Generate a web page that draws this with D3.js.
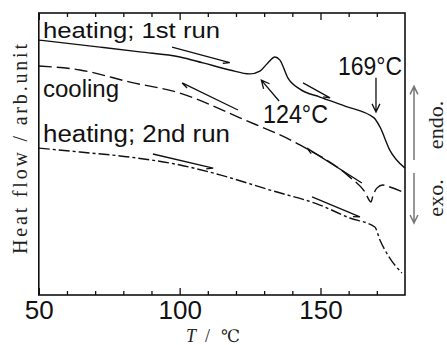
<!DOCTYPE html>
<html><head><meta charset="utf-8">
<script src="https://cdn.jsdelivr.net/npm/d3@7"></script>
<style>body{margin:0;background:#fff}svg{display:block}</style>
</head><body>
<script>
// ---- data (T in °C, heat flow in arb. units) ----
const run1T  = [50, 71.7, 85.9, 100.1, 108.3, 117.8, 124.9, 128.5, 131.3, 133.8, 135.6, 138.4, 142.7, 149.8, 158.7, 169.0, 171.1, 174.6, 180];
const run1HF = [9.04, 8.79, 8.62, 8.44, 8.23, 7.98, 7.84, 7.94, 8.23, 8.44, 8.33, 7.70, 7.30, 7.02, 6.70, 6.28, 5.96, 5.14, 4.50];
const coolT  = [50, 64.6, 82.4, 100.1, 121.4, 142.7, 160.4, 165.8, 167.9, 168.6, 170.0, 172.1, 174.6, 180];
const coolHF = [8.12, 7.98, 7.55, 7.16, 6.28, 5.32, 4.18, 3.65, 3.30, 3.51, 3.79, 3.90, 3.83, 3.62];
const run2T  = [50, 64.6, 82.4, 100.1, 114.3, 132.1, 149.8, 160.4, 169.3, 171.1, 174.6, 178.9];
const run2HF = [5.21, 5.07, 4.89, 4.61, 4.26, 3.72, 3.19, 2.73, 2.41, 1.95, 1.31, 0.78];
const majorTicks = [50, 100, 150];
const minorTicks = [60, 70, 80, 90, 110, 120, 130, 140, 160, 170];
const seriesLabels = ["heating; 1st run", "cooling", "heating; 2nd run"];
// direction arrows: [T tail, HF tail, T head, HF head]
const dirArrows = [
  [97.3, 8.79, 117.8, 8.24],
  [143.8, 7.52, 153.4, 6.99],
  [120.7, 6.56, 100.9, 7.52],
  [164.7, 3.97, 145.2, 5.21],
  [90.5, 5.0, 111.9, 4.50],
  [147.0, 3.48, 164.0, 2.77]
];
const peakLabels = ["124°C", "169°C"];

const W = 447, H = 345;
const m = {l: 38.8, r: 42, t: 13, b: 50};
const svg = d3.select("body").append("svg").attr("width", W).attr("height", H);
const x = d3.scaleLinear().domain([50, 180]).range([m.l, W - m.r]);
const y = d3.scaleLinear().domain([0, 10]).range([H - m.b, m.t]);
const sans = "'Liberation Sans', Arial, Helvetica, sans-serif";
const serif = "'Liberation Serif', 'Times New Roman', serif";

// ticks (inward, bottom and top)
const botMin = svg.append("g").attr("transform", `translate(0,${y(0)})`);
botMin.call(d3.axisBottom(x).tickValues(minorTicks).tickSize(-4).tickFormat(""));
const botMaj = svg.append("g").attr("transform", `translate(0,${y(0)})`);
botMaj.call(d3.axisBottom(x).tickValues(majorTicks).tickSize(-7).tickPadding(6).tickFormat(d3.format("d")));
const topMin = svg.append("g").attr("transform", `translate(0,${y(10)})`);
topMin.call(d3.axisTop(x).tickValues(minorTicks).tickSize(-4).tickFormat(""));
const topMaj = svg.append("g").attr("transform", `translate(0,${y(10)})`);
topMaj.call(d3.axisTop(x).tickValues(majorTicks).tickSize(-7).tickFormat(""));
svg.selectAll(".domain").remove();
svg.selectAll(".tick line").attr("stroke", "#111").attr("stroke-width", 1.3);
botMaj.selectAll("text").attr("font-family", sans).attr("font-size", 26).attr("fill", "#111");

// frame
svg.append("rect").attr("x", x(50)).attr("y", y(10)).attr("width", x(180) - x(50)).attr("height", y(0) - y(10))
  .attr("fill", "none").attr("stroke", "#111").attr("stroke-width", 1.6);

// curves
const line = d3.line().x(d => x(d[0])).y(d => y(d[1])).curve(d3.curveMonotoneX);
const g = svg.append("g").attr("fill", "none").attr("stroke", "#111").attr("stroke-width", 1.4);
g.append("path").attr("d", line(d3.zip(run1T, run1HF)));
g.append("path").attr("d", line(d3.zip(coolT, coolHF))).attr("stroke-dasharray", "13,5");
g.append("path").attr("d", line(d3.zip(run2T, run2HF))).attr("stroke-dasharray", "11,3,3,3");

// direction half-arrows
dirArrows.forEach(a => {
  const x1 = x(a[0]), y1 = y(a[1]), x2 = x(a[2]), y2 = y(a[3]);
  const ang = Math.atan2(y2 - y1, x2 - x1);
  const bl = 7, ba = 0.35;
  const side = (x2 > x1) ? -1 : 1;
  const bx = x2 - bl * Math.cos(ang + side * ba), by = y2 - bl * Math.sin(ang + side * ba);
  g.append("path").attr("d", `M${x1},${y1}L${x2},${y2}L${bx},${by}`).attr("stroke-width", 1.3);
});

// annotation arrows with open heads
function arrow(x1, y1, x2, y2, color, sw) {
  const ang = Math.atan2(y2 - y1, x2 - x1);
  const hl = 9, ha = 0.45;
  const p1 = [x2 - hl * Math.cos(ang - ha), y2 - hl * Math.sin(ang - ha)];
  const p2 = [x2 - hl * Math.cos(ang + ha), y2 - hl * Math.sin(ang + ha)];
  svg.append("path").attr("d", `M${x1},${y1}L${x2},${y2}M${p1}L${x2},${y2}L${p2}`)
    .attr("fill", "none").attr("stroke", color).attr("stroke-width", sw);
}
arrow(x(135.3), y(6.88), x(129.0), y(7.62), "#111", 1.3);
arrow(x(169.7), y(7.70), x(169.7), y(6.49), "#111", 1.3);
arrow(x(180) + 9, y(4.79), x(180) + 9, y(7.4), "#777", 1.5);
arrow(x(180) + 9, y(4.33), x(180) + 9, y(2.55), "#777", 1.5);

// series labels
const lab = [[43, 38, 22, 177], [43, 97, 23, 76], [43, 142, 23, 187]];
seriesLabels.forEach((t, i) => {
  svg.append("text").attr("x", lab[i][0]).attr("y", lab[i][1]).attr("font-family", sans)
    .attr("font-size", lab[i][2]).attr("textLength", lab[i][3]).attr("lengthAdjust", "spacingAndGlyphs")
    .attr("fill", "#111").text(t);
});
svg.append("text").attr("x", 263).attr("y", 123).attr("font-family", sans).attr("font-size", 26)
  .attr("textLength", 65).attr("lengthAdjust", "spacingAndGlyphs").attr("fill", "#111").text(peakLabels[0]);
svg.append("text").attr("x", 338).attr("y", 75).attr("font-family", sans).attr("font-size", 26)
  .attr("textLength", 64).attr("lengthAdjust", "spacingAndGlyphs").attr("fill", "#111").text(peakLabels[1]);

// axis titles
svg.append("text").attr("transform", "translate(27,149) rotate(-90)").attr("text-anchor", "middle")
  .attr("font-family", serif).attr("font-size", 20).attr("textLength", 210).attr("lengthAdjust", "spacing")
  .attr("fill", "#222").text("Heat flow / arb.unit");
svg.append("text").attr("x", 186).attr("y", 342).attr("font-family", serif).attr("font-style", "italic")
  .attr("font-size", 18).attr("fill", "#222").text("T");
svg.append("text").attr("x", 205).attr("y", 342).attr("font-family", serif)
  .attr("font-size", 18).attr("fill", "#222").text("/");
svg.append("text").attr("x", 221).attr("y", 342).attr("font-family", "'DejaVu Serif', serif")
  .attr("font-size", 17).attr("fill", "#222").text("℃");

// exo / endo
svg.append("text").attr("transform", "translate(443,198) rotate(-90)").attr("text-anchor", "middle")
  .attr("font-family", serif).attr("font-size", 22).attr("fill", "#222").text("exo.");
svg.append("text").attr("transform", "translate(443,125) rotate(-90)").attr("text-anchor", "middle")
  .attr("font-family", serif).attr("font-size", 22).attr("fill", "#222").text("endo.");
</script>
</body></html>
